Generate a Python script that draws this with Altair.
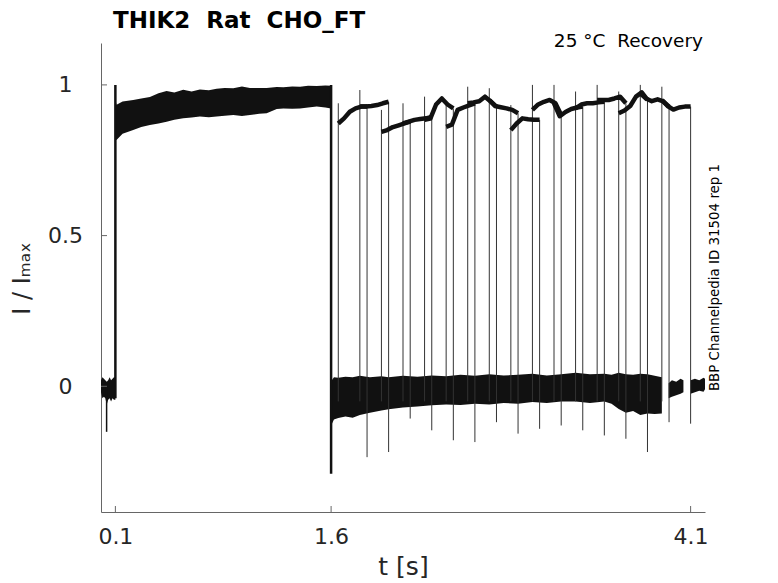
import altair as alt
import pandas as pd

# ---------------- data ----------------
TITLE = "THIK2\u00a0\u00a0Rat\u00a0\u00a0CHO_FT"
COND = "25 °C\u00a0\u00a0Recovery"
SIDE = "BBP Channelpedia ID 31504 rep 1"

x_ticks = [0.1, 1.6, 4.1]
y_ticks = [0, 0.5, 1]

# holding current before the prepulse (0 - 0.1 s): envelope of the overlaid sweeps
base0_t = [0.0, 0.01, 0.02, 0.03, 0.04, 0.05, 0.06, 0.07, 0.08, 0.09, 0.1]
base0_hi = [0.02, 0.03, 0.025, 0.02, 0.015, 0.02, 0.03, 0.02, 0.025, 0.03, 0.03]
base0_lo = [-0.02, -0.04, -0.035, -0.04, -0.06, -0.045, -0.04, -0.05, -0.04, -0.045, -0.045]
base0_spike_t = [0.039]
base0_spike_min = [-0.151]

# prepulse (0.1 - 1.6 s) envelope
pre_t = [0.1, 0.108, 0.15, 0.224, 0.28, 0.34, 0.4, 0.456, 0.51, 0.572, 0.63, 0.688,
         0.75, 0.804, 0.86, 0.92, 0.98, 1.036, 1.1, 1.152, 1.222, 1.268, 1.33,
         1.384, 1.44, 1.5, 1.56, 1.6]
pre_hi = [0.95, 0.934, 0.945, 0.95, 0.955, 0.96, 0.972, 0.98, 0.975, 0.984, 0.978, 0.985,
          0.982, 0.987, 0.99, 0.989, 0.995, 0.99, 0.99, 0.99, 0.993, 0.992, 0.995,
          0.994, 0.997, 0.996, 0.998, 0.997]
pre_lo = [0.82, 0.817, 0.838, 0.85, 0.86, 0.867, 0.872, 0.878, 0.884, 0.889, 0.892, 0.895,
          0.893, 0.895, 0.898, 0.9, 0.897, 0.9, 0.904, 0.906, 0.92, 0.922, 0.921,
          0.922, 0.925, 0.928, 0.925, 0.922]
pre_edges_t = [0.1, 1.6]
pre_edges_lo = [-0.04, -0.29]
pre_edges_hi = [1.0, 1.0]

# interpulse holding current (1.6 - 3.9 s) envelope
b1_t = [1.6, 1.605, 1.62, 1.65, 1.7, 1.75, 1.8, 1.87, 1.95, 2.0, 2.1, 2.2, 2.3, 2.4,
        2.5, 2.6, 2.7, 2.8, 2.9, 3.0, 3.1, 3.2, 3.3, 3.4, 3.5, 3.55, 3.6, 3.65,
        3.7, 3.75, 3.8, 3.85, 3.9]
b1_hi = [0.0, 0.02, 0.03, 0.028, 0.032, 0.03, 0.035, 0.03, 0.033, 0.03, 0.035, 0.032,
         0.036, 0.033, 0.038, 0.035, 0.04, 0.036, 0.038, 0.042, 0.036, 0.04, 0.045,
         0.04, 0.042, 0.038, 0.045, 0.04, 0.038, 0.042, 0.04, 0.035, 0.03]
b1_lo = [-0.16, -0.125, -0.11, -0.105, -0.1, -0.104, -0.095, -0.088, -0.08, -0.076, -0.07,
         -0.067, -0.063, -0.06, -0.062, -0.058, -0.06, -0.055, -0.058, -0.052, -0.055,
         -0.05, -0.05, -0.055, -0.05, -0.058, -0.075, -0.088, -0.082, -0.095, -0.09,
         -0.092, -0.09]

# tails after the last test pulses
tail1_t = [3.947, 3.97, 4.0, 4.03, 4.05]
tail1_hi = [0.01, 0.02, 0.015, 0.025, 0.02]
tail1_lo = [-0.04, -0.035, -0.03, -0.025, -0.02]
tail2_t = [4.1, 4.13, 4.16, 4.19, 4.2]
tail2_hi = [0.02, 0.025, 0.02, 0.028, 0.025]
tail2_lo = [-0.025, -0.02, -0.015, -0.018, -0.01]

# test pulses: onset, offset, onset transient peak, tail spike minimum
up_t = [1.65, 1.80, 1.95, 2.10, 2.25, 2.40, 2.55, 2.70, 2.85, 3.00, 3.15, 3.30, 3.45, 3.60, 3.75, 3.90]
down_t = [1.85, 2.00, 2.15, 2.30, 2.45, 2.60, 2.75, 2.90, 3.05, 3.20, 3.35, 3.50, 3.65, 3.80, 3.95, 4.10]
peaks = [0.939, 0.983, 0.917, 0.939, 0.961, 0.933, 0.994, 0.989, 0.933, 1.0, 1.0, 0.978, 1.0, 0.978, 1.0, 0.994]
spike_min = [-0.235, -0.218, -0.107, -0.146, -0.179, -0.185, -0.119, -0.157, -0.141, -0.130,
             -0.146, -0.163, -0.174, -0.218, -0.119, -0.124]
pulse_base = -0.05
seg_dt = [0.0, 0.04, 0.08, 0.12, 0.16, 0.2]
seg_vals = [
    [0.872, 0.889, 0.911, 0.922, 0.928, 0.928],
    [0.928, 0.928, 0.93, 0.933, 0.939, 0.944],
    [0.844, 0.85, 0.86, 0.866, 0.872, 0.878],
    [0.872, 0.878, 0.884, 0.887, 0.889, 0.894],
    [0.884, 0.888, 0.935, 0.955, 0.935, 0.922],
    [0.861, 0.868, 0.917, 0.925, 0.932, 0.939],
    [0.939, 0.942, 0.946, 0.961, 0.945, 0.928],
    [0.95, 0.93, 0.926, 0.922, 0.917, 0.906],
    [0.85, 0.872, 0.889, 0.886, 0.884, 0.884],
    [0.917, 0.935, 0.944, 0.95, 0.939, 0.9],
    [0.939, 0.896, 0.91, 0.92, 0.925, 0.928],
    [0.922, 0.935, 0.939, 0.939, 0.942, 0.944],
    [0.95, 0.95, 0.95, 0.955, 0.961, 0.939],
    [0.906, 0.915, 0.93, 0.961, 0.975, 0.95],
    [0.972, 0.955, 0.946, 0.952, 0.945, 0.928],
    [0.95, 0.93, 0.918, 0.925, 0.928, 0.928],
]

# ---------------- chart ----------------
W, H = 604, 469
FONT = "DejaVu Sans"
TXT = "#262626"
AX = "#666666"
TRACE = "#111111"

xs = alt.Scale(domain=[0, 4.2], nice=False, zero=False)
ys = alt.Scale(domain=[-0.417, 1.139], nice=False, zero=False)

xaxis = alt.Axis(values=x_ticks, labelExpr="datum.value + ''", ticks=False, tickSize=0,
                 grid=False, labelFontSize=22, labelColor=TXT, labelFont=FONT,
                 labelPadding=31, labelBaseline="alphabetic", domainColor=AX, domainWidth=1,
                 title="t [s]", titleFont=FONT, titleFontSize=25, titleFontWeight="normal",
                 titleColor=TXT, titleY=62, titleBaseline="alphabetic", labelFlush=False)
yaxis = alt.Axis(values=y_ticks, labelExpr="datum.value + ''", ticks=False, tickSize=0,
                 grid=False, labelFontSize=22, labelColor=TXT, labelFont=FONT,
                 labelPadding=36, labelAlign="center", domainColor=AX, domainWidth=1,
                 title="I / Iₘₐₓ", titleFont=FONT, titleFontSize=24,
                 titleFontWeight="normal", titleColor=TXT, titleX=-72, titleY=235,
                 titleAngle=270, titleAlign="center", titleBaseline="alphabetic",
                 labelFlush=False)


def X(f):
    return alt.X(f, type="quantitative", scale=xs, axis=xaxis)


def Y(f):
    return alt.Y(f, type="quantitative", scale=ys, axis=yaxis)


def band(t, lo, hi):
    df = pd.DataFrame({"t": t, "lo": lo, "hi": hi})
    return alt.Chart(df).mark_area(color=TRACE, opacity=1, interpolate="linear").encode(
        x=X("t"), y=Y("lo"), y2="hi")


layers = []
layers.append(band(base0_t, base0_lo, base0_hi))
layers.append(band(pre_t, pre_lo, pre_hi))
layers.append(band(b1_t, b1_lo, b1_hi))
layers.append(band(tail1_t, tail1_lo, tail1_hi))
layers.append(band(tail2_t, tail2_lo, tail2_hi))

# prepulse edges
pe = pd.DataFrame({"t": pre_edges_t, "lo": pre_edges_lo, "hi": pre_edges_hi})
layers.append(alt.Chart(pe).mark_rule(color=TRACE, strokeWidth=2.5).encode(
    x=X("t"), y=Y("lo"), y2="hi"))

# holding spike
bs = pd.DataFrame({"t": base0_spike_t, "lo": base0_spike_min, "hi": [0.0]})
layers.append(alt.Chart(bs).mark_rule(color=TRACE, strokeWidth=1.5).encode(
    x=X("t"), y=Y("lo"), y2="hi"))

# test pulse onsets and offsets
up_df = pd.DataFrame({"t": up_t, "lo": [pulse_base] * len(up_t), "hi": peaks})
layers.append(alt.Chart(up_df).mark_rule(color="#333333", strokeWidth=1).encode(
    x=X("t"), y=Y("lo"), y2="hi"))
down_df = pd.DataFrame({"t": down_t, "lo": spike_min, "hi": [s[-1] for s in seg_vals]})
layers.append(alt.Chart(down_df).mark_rule(color="#333333", strokeWidth=1).encode(
    x=X("t"), y=Y("lo"), y2="hi"))

# test pulse current traces
rows = []
for k, (t0, vals) in enumerate(zip(up_t, seg_vals)):
    for j, (dt, v) in enumerate(zip(seg_dt, vals)):
        rows.append({"sweep": k, "i": j, "t": t0 + dt, "v": v})
seg_df = pd.DataFrame(rows)
layers.append(alt.Chart(seg_df).mark_line(color=TRACE, strokeWidth=4.5, strokeJoin="round").encode(
    x=X("t"), y=Y("v"), detail="sweep:N", order="i:Q"))

# inward ticks
xt = pd.DataFrame({"t": x_ticks})
layers.append(alt.Chart(xt).mark_rule(color=AX, strokeWidth=1).encode(
    x=X("t"), y=alt.value(H), y2=alt.value(H - 6)))
yt = pd.DataFrame({"v": y_ticks})
layers.append(alt.Chart(yt).mark_rule(color=AX, strokeWidth=1).encode(
    y=Y("v"), x=alt.value(0), x2=alt.value(6)))

# texts
layers.append(alt.Chart(pd.DataFrame({"s": [TITLE]})).mark_text(
    font=FONT, fontSize=23, fontWeight="bold", color="black", align="left",
    baseline="alphabetic").encode(text="s:N", x=alt.value(12), y=alt.value(-15)))
layers.append(alt.Chart(pd.DataFrame({"s": [COND]})).mark_text(
    font=FONT, fontSize=18.5, color="black", align="right",
    baseline="alphabetic").encode(text="s:N", x=alt.value(602), y=alt.value(4)))
layers.append(alt.Chart(pd.DataFrame({"s": [SIDE]})).mark_text(
    font=FONT, fontSize=13.4, color="black", align="center", angle=270,
    baseline="alphabetic").encode(text="s:N", x=alt.value(617.5), y=alt.value(234.5)))

chart = alt.layer(*layers).properties(
    width=W, height=H,
    padding={"left": 93, "top": 35, "right": 60, "bottom": 75},
    autosize=alt.AutoSizeParams(type="none"),
).configure(background="white").configure_view(stroke=None)

chart.save("out.html", embed_options={"renderer": "svg", "actions": False})
